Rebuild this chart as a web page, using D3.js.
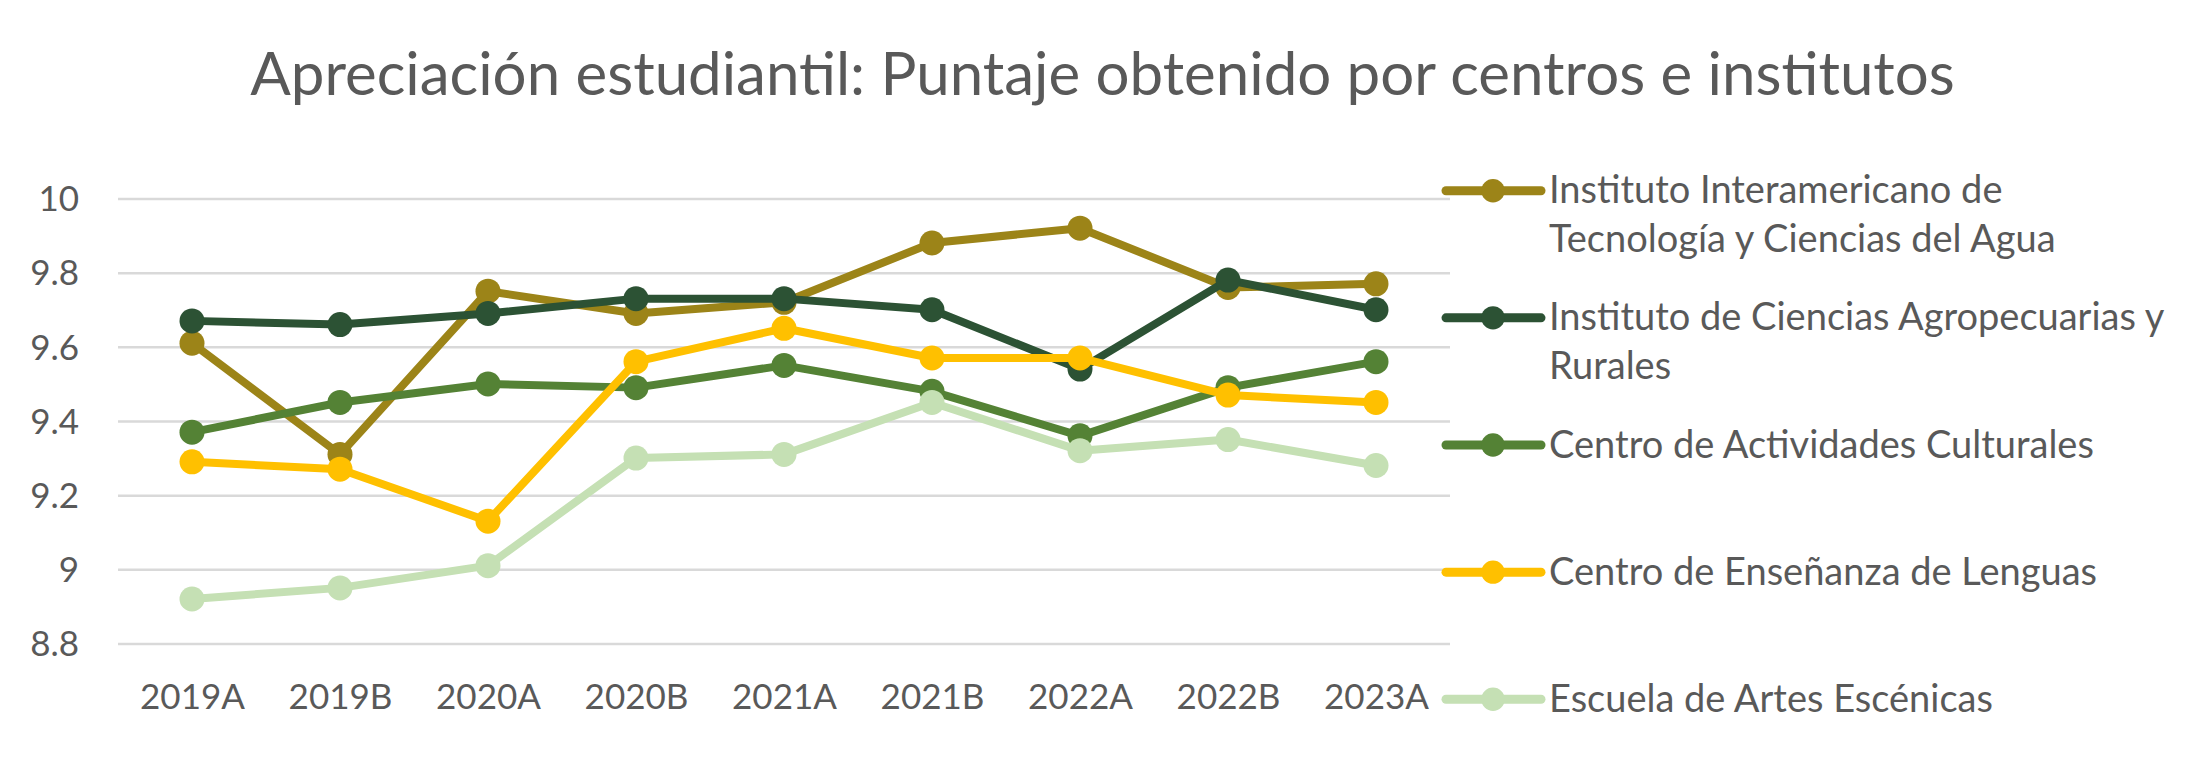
<!DOCTYPE html>
<html>
<head>
<meta charset="utf-8">
<script src="https://cdn.jsdelivr.net/npm/d3@7"></script>
<style>
  html, body { margin: 0; padding: 0; background: #fff; }
  #chart-container { width: 2205px; height: 771px; }
  text { font-family: Lato, "Open Sans", sans-serif; fill: #595959; }
</style>
</head>
<body>
<div id="chart-container"></div>
<script>
// Semesters on the x axis
const categories = ['2019A', '2019B', '2020A', '2020B', '2021A', '2021B', '2022A', '2022B', '2023A'];

// Scores per centre / institute
const imtaScores = [9.61, 9.31, 9.75, 9.69, 9.72, 9.88, 9.92, 9.76, 9.77];
const icarScores = [9.67, 9.66, 9.69, 9.73, 9.73, 9.70, 9.54, 9.78, 9.70];
const cacScores = [9.37, 9.45, 9.50, 9.49, 9.55, 9.48, 9.36, 9.49, 9.56];
const celScores = [9.29, 9.27, 9.13, 9.56, 9.65, 9.57, 9.57, 9.47, 9.45];
const eaeScores = [8.92, 8.95, 9.01, 9.30, 9.31, 9.45, 9.32, 9.35, 9.28];

// Legend labels, already wrapped like the original
const seriesLabels = [
  ['Instituto Interamericano de', 'Tecnología y Ciencias del Agua'],
  ['Instituto de Ciencias Agropecuarias y', 'Rurales'],
  ['Centro de Actividades Culturales'],
  ['Centro de Enseñanza de Lenguas'],
  ['Escuela de Artes Escénicas']
];

const yTicks = [8.8, 9, 9.2, 9.4, 9.6, 9.8, 10];

const series = [
  { values: imtaScores, color: '#9c8418' },
  { values: icarScores, color: '#2c5234' },
  { values: cacScores, color: '#548235' },
  { values: celScores, color: '#ffc000' },
  { values: eaeScores, color: '#c5e0b4' }
].map((s, i) => ({ ...s, label: seriesLabels[i] }));

// Chart configuration
const width = 2205;
const height = 771;
const plot = { left: 118, right: 1450, top: 198.5, bottom: 643.5 };

const svg = d3.select('#chart-container')
  .append('svg')
  .attr('width', width)
  .attr('height', height);

// Scales
const xScale = d3.scalePoint()
  .domain(categories)
  .range([plot.left, plot.right])
  .padding(0.5);

const yScale = d3.scaleLinear()
  .domain([8.8, 10])
  .range([plot.bottom, plot.top]);

// Gridlines + y labels
const yAxis = svg.append('g')
  .attr('transform', `translate(${plot.left}, 0)`)
  .call(d3.axisLeft(yScale)
    .tickValues(yTicks)
    .tickSize(-(plot.right - plot.left))
    .tickPadding(39)
    .tickFormat(d3.format('~g')));

yAxis.select('.domain').remove();
yAxis.selectAll('.tick line')
  .attr('stroke', '#d9d9d9')
  .attr('stroke-width', 2.5);
yAxis.selectAll('.tick text')
  .attr('font-size', 35)
  .attr('dy', '0.35em');

// X labels
const xAxis = svg.append('g')
  .attr('transform', `translate(0, ${plot.bottom})`)
  .call(d3.axisBottom(xScale).tickSize(0));

xAxis.select('.domain').remove();
xAxis.selectAll('.tick text')
  .attr('font-size', 35)
  .attr('dy', null)
  .attr('y', 65);

// Lines and markers, drawn in legend order
const line = d3.line()
  .x((d, i) => xScale(categories[i]))
  .y(d => yScale(d));

series.forEach(s => {
  const g = svg.append('g');

  g.append('path')
    .datum(s.values)
    .attr('d', line)
    .attr('fill', 'none')
    .attr('stroke', s.color)
    .attr('stroke-width', 8)
    .attr('stroke-linejoin', 'round')
    .attr('stroke-linecap', 'round');

  g.selectAll('circle')
    .data(s.values)
    .enter()
    .append('circle')
    .attr('cx', (d, i) => xScale(categories[i]))
    .attr('cy', d => yScale(d))
    .attr('r', 12.5)
    .attr('fill', s.color);
});

// Title
svg.append('text')
  .attr('x', width / 2)
  .attr('y', 95)
  .attr('text-anchor', 'middle')
  .attr('font-size', 60)
  .text('Apreciación estudiantil: Puntaje obtenido por centros e institutos');

// Legend
const legend = svg.append('g')
  .attr('transform', 'translate(1446, 190.7)');

const items = legend.selectAll('.legend-item')
  .data(series)
  .enter()
  .append('g')
  .attr('class', 'legend-item')
  .attr('transform', (d, i) => `translate(0, ${i * 127.15})`);

items.append('line')
  .attr('x1', 0)
  .attr('x2', 95)
  .attr('stroke', d => d.color)
  .attr('stroke-width', 9)
  .attr('stroke-linecap', 'round');

items.append('circle')
  .attr('cx', 47)
  .attr('r', 11.7)
  .attr('fill', d => d.color);

items.append('text')
  .attr('x', 103)
  .attr('y', 12.5)
  .attr('font-size', 38)
  .selectAll('tspan')
  .data(d => d.label)
  .enter()
  .append('tspan')
  .attr('x', 103)
  .attr('dy', (d, i) => i === 0 ? 0 : 48.5)
  .text(d => d);
</script>
</body>
</html>
